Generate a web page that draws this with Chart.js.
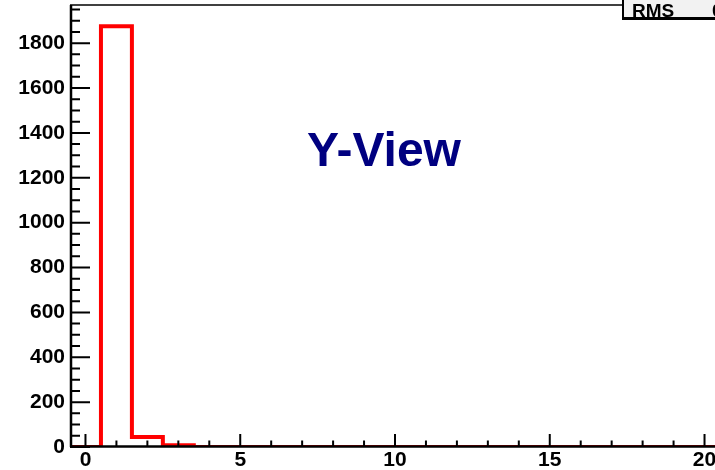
<!DOCTYPE html>
<html>
<head>
<meta charset="utf-8">
<script src="https://cdn.jsdelivr.net/npm/chart.js@4.4.1/dist/chart.umd.min.js"></script>
<style>
  html, body { margin: 0; padding: 0; background: #fff; overflow: hidden; }
  #wrap { position: relative; width: 740px; height: 470px; }
  #stats {
    position: absolute; left: 622px; top: -6px; width: 130px; height: 21px;
    background: #f2f2f2; border: 2px solid #000; border-bottom-width: 3px;
    font: bold 19px "Liberation Sans", Arial, sans-serif; color: #000;
  }
  #stats span { position: absolute; top: 6px; line-height: 18px; }
</style>
</head>
<body>
<div id="wrap">
  <canvas id="myChart" width="740" height="470" style="width:740px;height:470px"></canvas>
  <div id="stats"><span style="left:8px">RMS</span><span style="left:88px">0.2105</span></div>
</div>
<script>
// histogram bins (bin centres) and their contents
const binCenters = [0, 1, 2, 3, 4, 5, 6, 7, 8, 9, 10, 11, 12, 13, 14, 15, 16, 17, 18, 19, 20];
const counts = [0, 1875, 45, 8, 0, 0, 0, 0, 0, 0, 0, 0, 0, 0, 0, 0, 0, 0, 0, 0, 0];
const xTickLabels = [0, 5, 10, 15, 20];
const yTickLabels = [0, 200, 400, 600, 800, 1000, 1200, 1400, 1600, 1800];
const title = "Y-View";

// step outline: each bin starts at its low edge, last point closes the final bin
let outline = binCenters.map((c, i) => ({ x: c - 0.5, y: counts[i] }));
outline.push({ x: binCenters[binCenters.length - 1] + 0.5, y: counts[counts.length - 1] });

const tickFont = { family: "Liberation Sans", weight: "bold", size: 21 };

// ROOT style frame: axes, inward ticks and the title text
const frame = {
  id: "frame",
  afterDatasetsDraw(chart) {
    const ctx = chart.ctx, a = chart.chartArea;
    const xs = chart.scales.x, ys = chart.scales.y;
    ctx.save();
    ctx.strokeStyle = "#000";
    ctx.lineWidth = 1.5;
    ctx.beginPath(); ctx.moveTo(a.left, a.top); ctx.lineTo(a.right, a.top); ctx.stroke();
    ctx.lineWidth = 2.5;
    ctx.beginPath();
    ctx.moveTo(a.left + 1, a.top); ctx.lineTo(a.left + 1, a.bottom);
    ctx.moveTo(a.left, a.bottom - 0.5); ctx.lineTo(a.right, a.bottom - 0.5);
    ctx.stroke();
    ctx.lineWidth = 2;
    ctx.beginPath();
    for (let v = 0; v <= xs.max; v += 1) {
      const px = xs.getPixelForValue(v);
      const len = v % 5 === 0 ? 13 : 6.5;
      ctx.moveTo(px, a.bottom); ctx.lineTo(px, a.bottom - len);
    }
    for (let v = 0; v <= ys.max; v += 50) {
      const py = ys.getPixelForValue(v);
      const len = v % 200 === 0 ? 20 : 10;
      ctx.moveTo(a.left, py); ctx.lineTo(a.left + len, py);
    }
    ctx.stroke();
    ctx.restore();
  },
  afterDraw(chart) {
    const ctx = chart.ctx;
    ctx.save();
    ctx.fillStyle = "#000080";
    ctx.font = "bold 48px 'Liberation Sans', Arial, sans-serif";
    ctx.textAlign = "center";
    ctx.textBaseline = "alphabetic";
    ctx.fillText(title, 384, 166);
    ctx.restore();
  }
};

const chart = new Chart(document.getElementById("myChart"), {
  type: "line",
  data: {
    datasets: [{
      data: outline,
      stepped: "before",
      borderColor: "#ff0000",
      borderWidth: 4,
      pointRadius: 0,
      fill: false,
      tension: 0
    }]
  },
  options: {
    responsive: false,
    animation: false,
    layout: { padding: { top: 5, right: 20, left: 0, bottom: 0 } },
    plugins: { legend: { display: false }, tooltip: { enabled: false } },
    scales: {
      x: {
        type: "linear",
        min: -0.5,
        max: 20.5,
        grid: { display: false, drawTicks: false },
        border: { display: false },
        afterBuildTicks: s => { s.ticks = xTickLabels.map(v => ({ value: v })); },
        afterFit: s => { s.height = 23; s.paddingLeft = 0; s.paddingRight = 0; },
        ticks: { font: tickFont, color: "#000", padding: 1, maxRotation: 0, autoSkip: false, callback: v => String(v) }
      },
      y: {
        min: 0,
        max: 1970,
        grid: { display: false, drawTicks: false },
        border: { display: false },
        afterBuildTicks: s => { s.ticks = yTickLabels.map(v => ({ value: v })); },
        afterFit: s => { s.width = 70; s.paddingTop = 0; s.paddingBottom = 0; },
        ticks: { font: tickFont, color: "#000", padding: 5, autoSkip: false, callback: v => String(v) }
      }
    }
  },
  plugins: [frame]
});
window.myChart = chart;
</script>
</body>
</html>
